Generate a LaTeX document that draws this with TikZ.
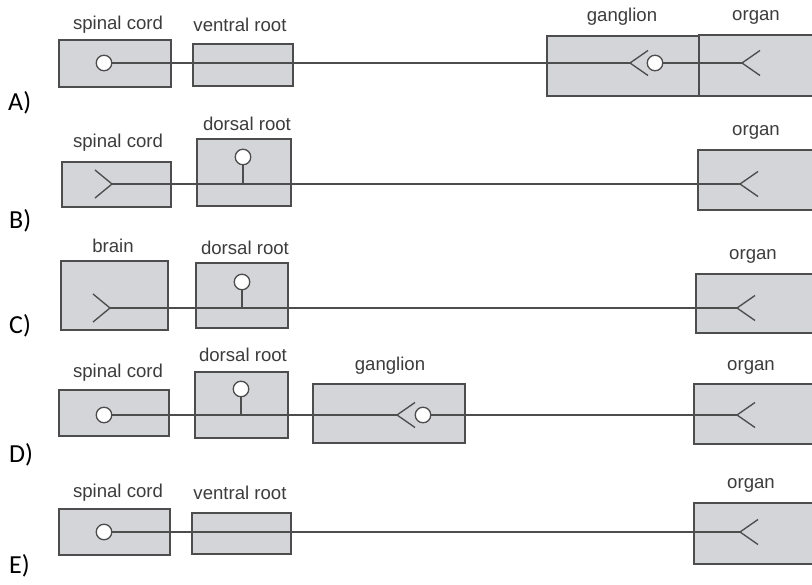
\documentclass[tikz,border=0pt]{standalone}
\usepackage{fontspec}
\setmainfont{Liberation Sans}
\newfontfamily\letterfont{Carlito}
\definecolor{boxgray}{RGB}{212,213,216}
\definecolor{linegray}{RGB}{77,77,77}
\definecolor{textgray}{RGB}{60,60,60}
\tikzset{
  region/.style={draw=linegray, fill=boxgray, line width=1.4pt, inner sep=0pt},
  axon/.style={draw=linegray, line width=1.35pt, line join=round},
  soma/.style={circle, draw=linegray, fill=white, line width=1.3pt, minimum size=15.5pt, inner sep=0pt},
  lbl/.style={text=textgray, font=\fontsize{18.6}{22}\selectfont, inner sep=0pt},
  optlbl/.style={font=\letterfont\fontsize{26}{30}\selectfont, anchor=west, inner sep=0pt}
}
\begin{document}
\begin{tikzpicture}[x=1pt,y=-1pt]
    \useasboundingbox (0,0) rectangle (812,585);
    \clip (0,0) rectangle (812,585);

    % row A: spinal cord - ventral root - ganglion - organ
    \begin{scope}
        \node[region, minimum width=112pt, minimum height=47pt] (scA) at (115,63.5) {};
        \node[region, minimum width=100pt, minimum height=42pt] (vrA) at (243,65) {};
        \node[region, minimum width=152pt, minimum height=60pt] (gaA) at (623,66) {};
        \node[region, minimum width=131pt, minimum height=61pt] (orA) at (764.5,65.5) {};

        \node[lbl] (scAlbl) at (118,25) {spinal cord};
        \node[lbl] (vrAlbl) at (240,25) {ventral root};
        \node[lbl] (gaAlbl) at (622,17) {ganglion};
        \node[lbl] (orAlbl) at (756,17) {organ};

        \node[soma] (soA) at (104,63) {};
        \node[soma] (sgA) at (655,63) {};
        \coordinate (fgA) at (630,63);
        \coordinate (foA) at (742,63);
        \draw[axon] (soA) -- (fgA);
        \draw[axon] (sgA) -- (foA);

        \node[optlbl] (optA) at (8,102.5) {A)};
    \end{scope}

    % row B: spinal cord - dorsal root - organ
    \begin{scope}
        \node[region, minimum width=109pt, minimum height=45pt] (scB) at (116.5,184.5) {};
        \node[region, minimum width=94pt, minimum height=67pt] (drB) at (244,172.5) {};
        \node[region, minimum width=132pt, minimum height=60pt] (orB) at (764,180) {};

        \node[lbl] (scBlbl) at (118,143) {spinal cord};
        \node[lbl] (drBlbl) at (247,124) {dorsal root};
        \node[lbl] (orBlbl) at (756,132) {organ};

        \node[soma] (dsoB) at (243,157) {};
        \coordinate (jnB) at (243,184);
        \coordinate (fiB) at (112,184);
        \coordinate (foB) at (740,184);
        \draw[axon] (fiB) -- (foB);

        \node[optlbl] (optB) at (9,221) {B)};
    \end{scope}

    % row C: brain - dorsal root - organ
    \begin{scope}
        \node[region, minimum width=107pt, minimum height=69pt] (brC) at (114.5,295.5) {};
        \node[region, minimum width=92pt, minimum height=65pt] (drC) at (242,295.5) {};
        \node[region, minimum width=134pt, minimum height=59pt] (orC) at (763,303.5) {};

        \node[lbl] (brClbl) at (113,246) {brain};
        \node[lbl] (drClbl) at (245,248) {dorsal root};
        \node[lbl] (orClbl) at (753,256) {organ};

        \node[soma] (dsoC) at (242,282) {};
        \coordinate (jnC) at (242,308);
        \coordinate (fiC) at (110,308);
        \coordinate (foC) at (737,308);
        \draw[axon] (fiC) -- (foC);

        \node[optlbl] (optC) at (9,326) {C)};
    \end{scope}

    % row D: spinal cord - dorsal root - ganglion - organ
    \begin{scope}
        \node[region, minimum width=110pt, minimum height=46pt] (scD) at (114,413) {};
        \node[region, minimum width=93pt, minimum height=66pt] (drD) at (241.5,405) {};
        \node[region, minimum width=152pt, minimum height=59pt] (gaD) at (389,413.5) {};
        \node[region, minimum width=136pt, minimum height=60pt] (orD) at (762,414) {};

        \node[lbl] (scDlbl) at (118,373) {spinal cord};
        \node[lbl] (drDlbl) at (243,355) {dorsal root};
        \node[lbl] (gaDlbl) at (390,366) {ganglion};
        \node[lbl] (orDlbl) at (751,367) {organ};

        \node[soma] (soD) at (104,415) {};
        \node[soma] (dsoD) at (241,389) {};
        \node[soma] (sgD) at (423,415) {};
        \coordinate (jnD) at (241,415);
        \coordinate (fgD) at (397,415);
        \coordinate (foD) at (737,415);
        \draw[axon] (soD) -- (fgD);
        \draw[axon] (sgD) -- (foD);

        \node[optlbl] (optD) at (9,455) {D)};
    \end{scope}

    % row E: spinal cord - ventral root - organ
    \begin{scope}
        \node[region, minimum width=111pt, minimum height=46pt] (scE) at (114.5,532) {};
        \node[region, minimum width=99pt, minimum height=41pt] (vrE) at (241.5,533.5) {};
        \node[region, minimum width=136pt, minimum height=61pt] (orE) at (762,533.5) {};

        \node[lbl] (scElbl) at (118,493) {spinal cord};
        \node[lbl] (vrElbl) at (240,493) {ventral root};
        \node[lbl] (orElbl) at (751,485) {organ};

        \node[soma] (soE) at (104,532) {};
        \coordinate (foE) at (740,532);
        \draw[axon] (soE) -- (foE);

        \node[optlbl] (optE) at (9,566) {E)};
    \end{scope}

    % axon endings opening to the right
    \foreach \f in {fgA,foA,foB,foC,fgD,foD,foE} {
        \draw[axon] (\f) ++(18,-12.5) -- (\f) -- ++(18,12.5);
    }
    % endings in the cord / brain, opening to the left
    \foreach \f in {fiB,fiC} {
        \draw[axon] (\f) ++(-17,-14) -- (\f) -- ++(-17,14);
    }
    % stems of the dorsal root cells
    \foreach \r in {B,C,D} {
        \draw[axon] (dso\r) -- (jn\r);
    }
\end{tikzpicture}
\end{document}
